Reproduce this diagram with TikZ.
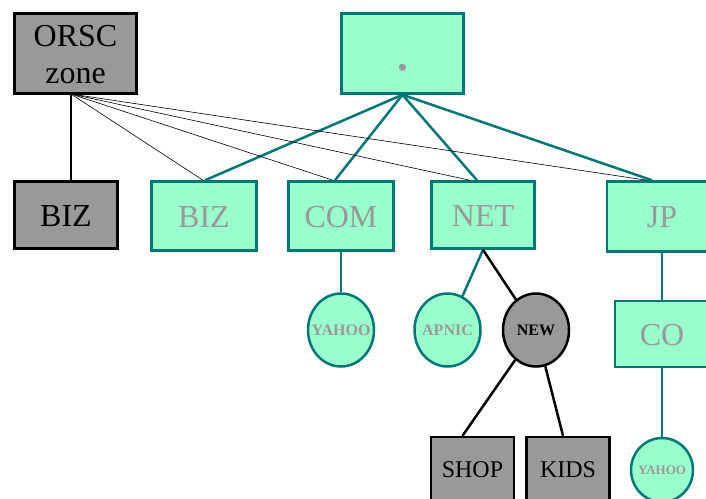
\documentclass[tikz,border=0pt]{standalone}
\usepackage{fontspec}
\setmainfont{Liberation Serif}
\definecolor{mint}{HTML}{99FFCC}
\definecolor{tealedge}{HTML}{007777}
\definecolor{darkfill}{HTML}{999999}
\definecolor{softtext}{HTML}{999999}
\tikzset{
	graybox/.style={shape=rectangle, draw=black, fill=darkfill, line width=2.5pt, inner sep=0pt,
		font=\fontsize{32}{37}\selectfont, text height=22pt, text depth=0pt},
	greenbox/.style={shape=rectangle, draw=tealedge, fill=mint, line width=2.5pt, inner sep=0pt,
		text=softtext, font=\fontsize{32}{37}\selectfont, text height=22pt, text depth=0pt},
	greenoval/.style={shape=ellipse, draw=tealedge, fill=mint, line width=2.5pt, inner ysep=0pt, inner xsep=-14pt,
		text=softtext, font=\fontsize{16}{16}\selectfont\bfseries},
	grayoval/.style={shape=ellipse, draw=black, fill=darkfill, line width=2.5pt, inner ysep=0pt, inner xsep=-14pt,
		font=\fontsize{16}{16}\selectfont\bfseries},
	tealedgeline/.style={draw=tealedge, line width=2.5pt},
	blackedgeline/.style={draw=black, line width=2.5pt},
	thinedgeline/.style={draw=black, line width=0.6pt}
}
\usetikzlibrary{shapes.geometric}
\begin{document}
\begin{tikzpicture}[x=1pt, y=-1pt]
	\clip (0,0) rectangle (706,498);
	% Top nodes
	\node[graybox, minimum width=122pt, minimum height=80pt, align=center, text height=59pt] (ORSC) at (75.5, 53.5) {ORSC\\zone};
	\node[greenbox, minimum width=122pt, minimum height=80pt, font=\fontsize{60}{60}\selectfont, text height=33pt] (Root) at (402.5, 53.5) {.};
	\coordinate (ORSCfoot) at (71, 94);
	% Second level
	\node[graybox, minimum width=103pt, minimum height=67pt] (BIZk) at (66, 215) {BIZ};
	\node[greenbox, minimum width=105pt, minimum height=69pt] (BIZ) at (204, 216) {BIZ};
	\node[greenbox, minimum width=105pt, minimum height=69pt] (COM) at (341, 216) {COM};
	\node[greenbox, minimum width=103pt, minimum height=67pt] (NET) at (483, 215) {NET};
	\node[greenbox, minimum width=110pt, minimum height=70pt] (JP) at (662, 216.5) {JP};
	% Third level
	\node[greenoval, minimum width=66pt, minimum height=73pt] (YAHOO) at (341, 330) {YAHOO};
	\node[greenoval, minimum width=66pt, minimum height=73pt] (APNIC) at (447.5, 330) {APNIC};
	\node[grayoval, minimum width=66pt, minimum height=73pt] (NEW) at (536, 330) {NEW};
	\node[greenbox, minimum width=94pt, minimum height=66pt] (CO) at (662, 334) {CO};
	% Bottom nodes
	\node[graybox, minimum width=83pt, minimum height=64pt, font=\fontsize{24}{24}\selectfont, text height=16pt] (SHOP) at (472.5, 469) {SHOP};
	\node[graybox, minimum width=83pt, minimum height=64pt, font=\fontsize{24}{24}\selectfont, text height=16pt] (KIDS) at (568, 469) {KIDS};
	\node[greenoval, minimum width=62pt, minimum height=64pt, font=\fontsize{13}{13}\selectfont\bfseries] (YAHOOjp) at (662, 470) {YAHOO};
	% Connections from the root
	\draw[tealedgeline] (Root.south) -- ([xshift=1pt]BIZ.north);
	\draw[tealedgeline] (Root.south) -- ([xshift=-6pt]COM.north);
	\draw[tealedgeline] (Root.south) -- ([xshift=-6pt]NET.north);
	\draw[tealedgeline] (Root.south) -- ([xshift=-10pt]JP.north);
	% Connections from the ORSC zone
	\draw[blackedgeline] (ORSCfoot) -- (ORSCfoot |- BIZk.north);
	\draw[thinedgeline] (ORSCfoot) -- ([xshift=-1pt]BIZ.north);
	\draw[thinedgeline] (ORSCfoot) -- ([xshift=-8pt]COM.north);
	\draw[thinedgeline] (ORSCfoot) -- ([xshift=-13pt]NET.north);
	\draw[thinedgeline] (ORSCfoot) -- ([xshift=-15pt]JP.north);
	% Lower connections
	\draw[tealedgeline] (COM.south) -- (YAHOO);
	\draw[tealedgeline] (NET.south) -- (APNIC);
	\draw[blackedgeline] (NET.south) -- (NEW);
	\draw[tealedgeline] (JP.south) -- (CO.north);
	\draw[tealedgeline] (CO.south) -- (YAHOOjp);
	\draw[blackedgeline] (NEW) -- ([xshift=-10pt]SHOP.north);
	\draw[blackedgeline] (NEW) -- ([xshift=-5pt]KIDS.north);
\end{tikzpicture}
\end{document}
